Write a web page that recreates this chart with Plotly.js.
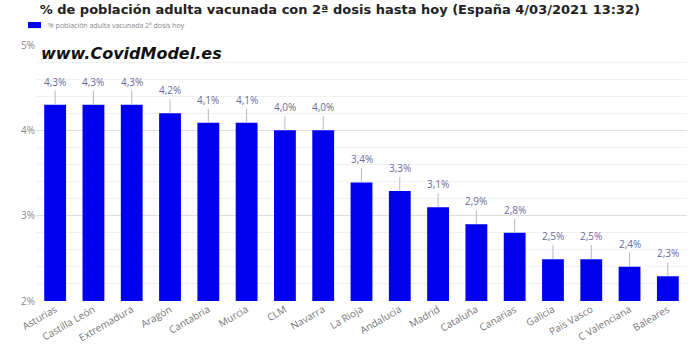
<!DOCTYPE html>
<html><head><meta charset="utf-8">
<script src="https://cdn.plot.ly/plotly-3.0.1.min.js"></script>
<style>html,body{margin:0;padding:0;background:#fff}#c{width:696px;height:352px}</style>
</head><body><div id="c"></div>
<script>
const regions = ["Asturias","Castilla León","Extremadura","Aragón","Cantabria","Murcia","CLM","Navarra","La Rioja","Andalucia","Madrid","Cataluña","Canarias","Galicia","País Vasco","C Valenciana","Baleares"];
const values = [4.30,4.30,4.30,4.20,4.09,4.09,4.00,4.00,3.39,3.29,3.10,2.90,2.80,2.49,2.49,2.40,2.29];
const labels = ["4,3%","4,3%","4,3%","4,2%","4,1%","4,1%","4,0%","4,0%","3,4%","3,3%","3,1%","2,9%","2,8%","2,5%","2,5%","2,4%","2,3%"];
const seriesName = "% población adulta vacunada 2ª dosis hoy";
const yTicks = [2,3,4,5];
const yTickText = ["2%","3%","4%","5%"];
</script>
<script>
const ann = regions.map((r,i)=>({x:r,y:values[i],xref:'x',yref:'y',text:labels[i],showarrow:true,arrowhead:0,arrowwidth:1,arrowcolor:'#b8b8c8',ax:0,ay:-14,font:{family:'Open Sans',size:10,color:'#6a6a9a'},yanchor:'bottom'}));
ann.push({xref:'paper',yref:'paper',x:0.005,y:1.0,xanchor:'left',yanchor:'top',yshift:3,text:'<b><i>www.CovidModel.es</i></b>',showarrow:false,font:{family:'DejaVu Sans',size:16,color:'#111'}});
ann.push({xref:'paper',yref:'paper',x:0.0154,y:1.078,xanchor:'left',yanchor:'middle',text:seriesName,showarrow:false,font:{family:'Open Sans',size:7,color:'#888'}});
const data=[{type:'bar',x:regions,y:values,name:seriesName,marker:{color:'#0000ee',line:{color:'#0000ee',width:0}},hoverinfo:'skip',showlegend:false}];
const layout={
 width:696,height:352,margin:{l:36,r:9,t:45,b:51,autoexpand:false},
 paper_bgcolor:'#fff',plot_bgcolor:'#fff',
 title:{text:'<b>% de población adulta vacunada con 2ª dosis hasta hoy (España 4/03/2021 13:32)</b>',x:0.057,xanchor:'left',y:0.985,yanchor:'top',font:{family:'DejaVu Sans',size:13,color:'#222'}},
 showlegend:false,
 shapes:[{type:'rect',xref:'paper',yref:'paper',x0:-0.0123,x1:0.0077,y0:1.066,y1:1.090,fillcolor:'#0000ee',line:{width:0}}],
 bargap:0.43,
 xaxis:{tickangle:-30,tickfont:{family:'Open Sans',size:10,color:'#777'},showgrid:false,zeroline:false,showline:false,ticks:''},
 yaxis:{range:[2,5],tickvals:yTicks,ticktext:yTickText,tickfont:{family:'Open Sans',size:10,color:'#888'},showgrid:true,gridcolor:'#dedede',gridwidth:1,zeroline:false,showline:false,ticks:'',
   minor:{dtick:0.2,showgrid:true,gridcolor:'#f1f1f1',gridwidth:1}},
 annotations:ann
};
Plotly.newPlot('c',data,layout,{displayModeBar:false,staticPlot:true});
</script></body></html>
